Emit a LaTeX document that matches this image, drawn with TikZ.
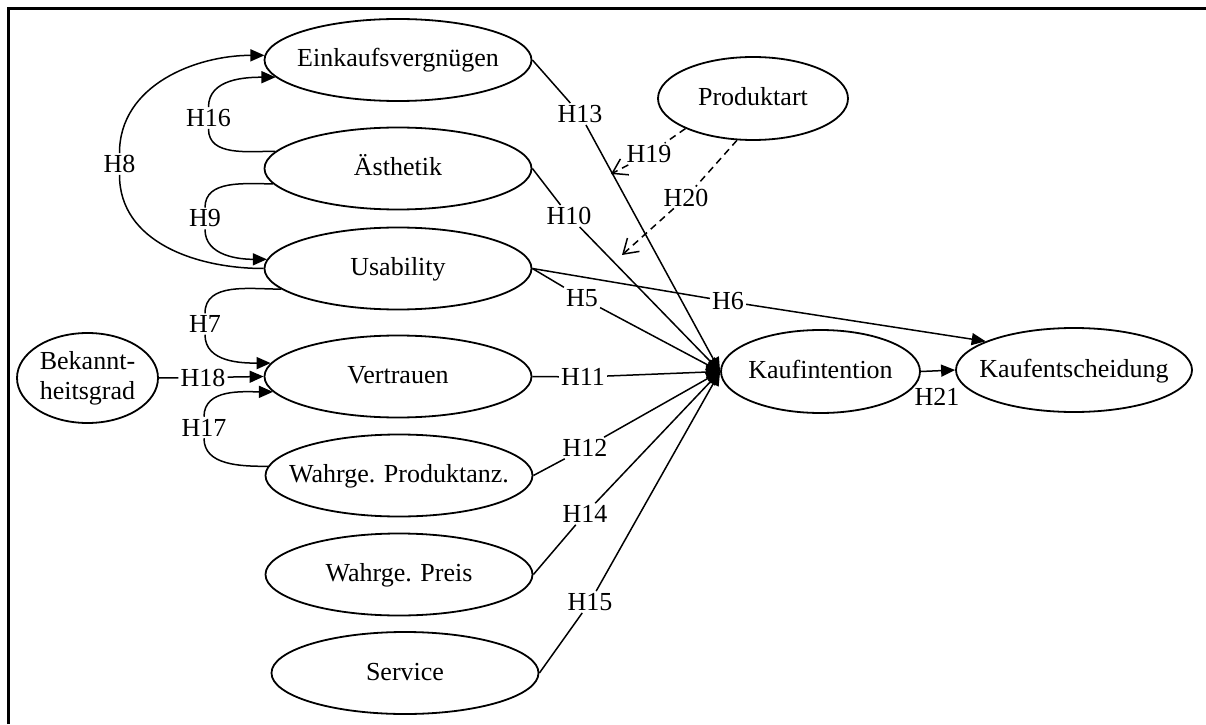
\documentclass[tikz,border=0pt]{standalone}
\usepackage{fontspec}
\setmainfont{Liberation Serif}
\usetikzlibrary{shapes.geometric,arrows.meta}
\newcommand\ztext[1]{\makebox[0pt]{#1}}
\begin{document}
\begin{tikzpicture}[x=1pt,y=1pt,
  every node/.style={font=\fontsize{26}{30}\selectfont},
  ellbase/.style={draw, ellipse, line width=1.8pt, inner sep=0pt, minimum width=267pt, minimum height=82pt},
  ell/.style={ellbase, text height=18pt, text depth=4pt},
  lbl/.style={inner sep=2pt},
  conn/.style={line width=1.5pt},
  arr/.style={conn, -{Triangle[length=14pt,width=12pt]}},
  mod/.style={conn, dash pattern=on 7pt off 5pt},
  modarr/.style={mod, -{Straight Barb[length=14pt,width=18pt]}}
]
\useasboundingbox (0,0) rectangle (1206,724);
\draw[line width=2.5pt] (8.5,0) -- (8.5,715.5) -- (1206,715.5);

% ellipses
\node[ell] (eink) at (398,664) {\ztext{Einkaufsvergnügen}};
\node[ell] (aest) at (398,555.5) {\ztext{Ästhetik}};
\node[ell] (usab) at (398,455.5) {\ztext{Usability}};
\node[ell] (vert) at (398,347.5) {\ztext{Vertrauen}};
\node[ell] (wprod) at (399,248.5) {\ztext{Wahrge. Produktanz.}};
\node[ell] (wpreis) at (399,149.5) {\ztext{Wahrge. Preis}};
\node[ell] (serv) at (405,51) {\ztext{Service}};
\node[ellbase, minimum width=141pt, minimum height=90pt, align=center] (bek) at (87.5,346) {Bekannt-\\heitsgrad};
\node[ell, minimum width=190pt, minimum height=83pt] (prod) at (753,625.5) {\ztext{Produktart}};
\node[ell, minimum width=199pt, minimum height=83pt] (kint) at (820.5,352.5) {\ztext{Kaufintention}};
\node[ell, minimum width=236pt, minimum height=84pt] (kent) at (1074,354) {\ztext{Kaufentscheidung}};

% labels
\node[lbl] (h8) at (119.5,560) {H8};
\node[lbl] (h16) at (208.5,606) {H16};
\node[lbl] (h9) at (205,505.5) {H9};
\node[lbl] (h7) at (205,400) {H7};
\node[lbl] (h18) at (203,346.5) {H18};
\node[lbl] (h17) at (204,296.5) {H17};
\node[lbl] (h13) at (580,610) {H13};
\node[lbl] (h10) at (569,508) {H10};
\node[lbl] (h5) at (582,426) {H5};
\node[lbl] (h6) at (728,422.5) {H6};
\node[lbl] (h11) at (583,347) {H11};
\node[lbl] (h12) at (585,276) {H12};
\node[lbl] (h14) at (585,210) {H14};
\node[lbl] (h15) at (590,122) {H15};
\node[lbl] (h19) at (649,570) {H19};
\node[lbl] (h20) at (686,526.5) {H20};
\node[lbl] (h21) at (937,327.5) {H21};
\coordinate (t19) at (611,550);
\coordinate (t20) at (622,469);

% curved edges on the left
\draw[conn] (usab.west) to[out=180,in=-90] (h8.south);
\draw[arr] (h8.north) to[out=90,in=180] (eink.178);
\draw[conn] (aest.172) to[out=180,in=-90] (h16.south);
\draw[arr] (h16.north) to[out=90,in=180] (eink.188);
\draw[conn] (aest.187) to[out=180,in=90] (h9.north);
\draw[arr] (h9.south) to[out=-90,in=180] (usab.176);
\draw[conn] (usab.190) to[out=180,in=90] (h7.north);
\draw[arr] (h7.south) to[out=-90,in=180] (vert.174);
\draw[conn] (bek.east) -- (h18);
\draw[arr] (h18) -- (vert.west);
\draw[conn] (wprod.176) to[out=180,in=-90] (h17.south);
\draw[arr] (h17.north) to[out=90,in=180] (vert.187);

% straight edges to Kaufintention
\draw[conn] (eink.east) -- (h13); \draw[arr] (h13) -- (kint.west);
\draw[conn] (aest.east) -- (h10); \draw[arr] (h10) -- (kint.west);
\draw[conn] (usab.east) -- (h5); \draw[arr] (h5) -- (kint.west);
\draw[conn] (usab.east) -- (h6); \draw[arr] (h6) -- (kent.162);
\draw[conn] (vert.east) -- (h11); \draw[arr] (h11) -- (kint.west);
\draw[conn] (wprod.east) -- (h12); \draw[arr] (h12) -- (kint.west);
\draw[conn] (wpreis.east) -- (h14); \draw[arr] (h14) -- (kint.west);
\draw[conn] (serv.east) -- (h15); \draw[arr] (h15) -- (kint.west);

% moderating effects
\draw[mod] (prod.204) -- (h19); \draw[modarr] (h19) -- (t19);
\draw[mod] (prod.249) -- (h20); \draw[modarr] (h20) -- (t20);

\draw[arr] (kint.east) -- (kent.west);
\end{tikzpicture}
\end{document}
